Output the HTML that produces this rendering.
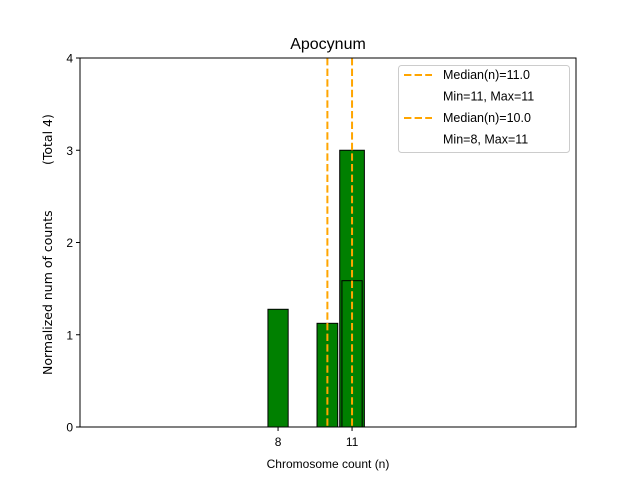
<!DOCTYPE html>
<html><head><meta charset="utf-8"><style>
body{margin:0;background:#fff;}
svg{font-family:"Liberation Sans","DejaVu Sans",sans-serif;}
</style></head><body>
<svg width="640" height="480">
<g id="plot"></g>
</svg>
<script>
const barCenters=[11,8,10,11];
const barWidths=[1.0,0.82,0.84,0.82];
const barValues=[3.0,1.276,1.124,1.586];
const medians=[10,11];
const xTicks=[8,11];
const yTicks=[0,1,2,3,4];
const L=80,R=576,T=58,B=427,xmin=-0.03,xmax=20.08,ymax=4;
const sx=v=>L+(v-xmin)/(xmax-xmin)*(R-L);
const sy=v=>B-v/ymax*(B-T);
const ns='http://www.w3.org/2000/svg';
const g=document.getElementById('plot');
function mk(t,a,txt){const e=document.createElementNS(ns,t);for(const k in a)e.setAttribute(k,a[k]);if(txt!==undefined)e.textContent=txt;g.appendChild(e);return e;}
let e;
e=mk('rect',{x:L,y:T,width:R-L,height:B-T,fill:'#fff',stroke:'none'});


e=mk('line',{x1:L,y1:B,x2:sx(14.6),y2:B,stroke:'#000','stroke-width':1});


barValues.forEach((v,i)=>{
 const x0=sx(barCenters[i]-barWidths[i]/2),x1=sx(barCenters[i]+barWidths[i]/2);
 const r=mk('rect',{x:x0,y:sy(v),width:x1-x0,height:B-sy(v),fill:'#008000',stroke:'#000','stroke-width':1});
 
 
});
medians.forEach((m,i)=>{
 const l=mk('line',{x1:sx(m),y1:T,x2:sx(m),y2:B,stroke:'#ffa500','stroke-width':2,'stroke-dasharray':'7.4,3.2'});
 
 
});
e=mk('rect',{x:L,y:T,width:R-L,height:B-T,fill:'none',stroke:'#000','stroke-width':1});


xTicks.forEach(t=>{
 mk('line',{x1:sx(t),y1:B,x2:sx(t),y2:B+4,stroke:'#000'});
 const tx=mk('text',{x:sx(t),y:B+19,'font-size':12,'text-anchor':'middle'},String(t));
 
 
});
yTicks.forEach(t=>{
 mk('line',{x1:L-4,y1:sy(t),x2:L,y2:sy(t),stroke:'#000'});
 const tx=mk('text',{x:L-7,y:sy(t)+4.5,'font-size':12,'text-anchor':'end'},String(t));
 
 
});
e=mk('text',{x:328,y:49,'font-size':16,'text-anchor':'middle'},'Apocynum');


e=mk('text',{x:328,y:468,'font-size':12,'text-anchor':'middle'},'Chromosome count (n)');


e=mk('text',{x:0,y:0,'font-size':12.5,'font-family':'DejaVu Sans, sans-serif','text-anchor':'start',transform:'translate(52,375) rotate(-90)'},'Normalized num of counts');


e=mk('text',{x:0,y:0,'font-size':12.5,'font-family':'DejaVu Sans, sans-serif','text-anchor':'start',transform:'translate(52,165) rotate(-90)'},'(Total 4)');


e=mk('rect',{x:398.5,y:65.5,width:171,height:87,rx:3,fill:'#fff','fill-opacity':0.8,stroke:'#ccc'});


const legendLines=['Median(n)=11.0','Min=11, Max=11','Median(n)=10.0','Min=8, Max=11'];
legendLines.forEach((s,i)=>{
 const y=79+i*21.5;
 if(i%2===0){const l=mk('line',{x1:404,y1:y-4,x2:432,y2:y-4,stroke:'#ffa500','stroke-width':2,'stroke-dasharray':'7.4,3.2'});
 
 }
 const tx=mk('text',{x:443,y:y,'font-size':12.5},s);
 
 
});
</script>
</body></html>
